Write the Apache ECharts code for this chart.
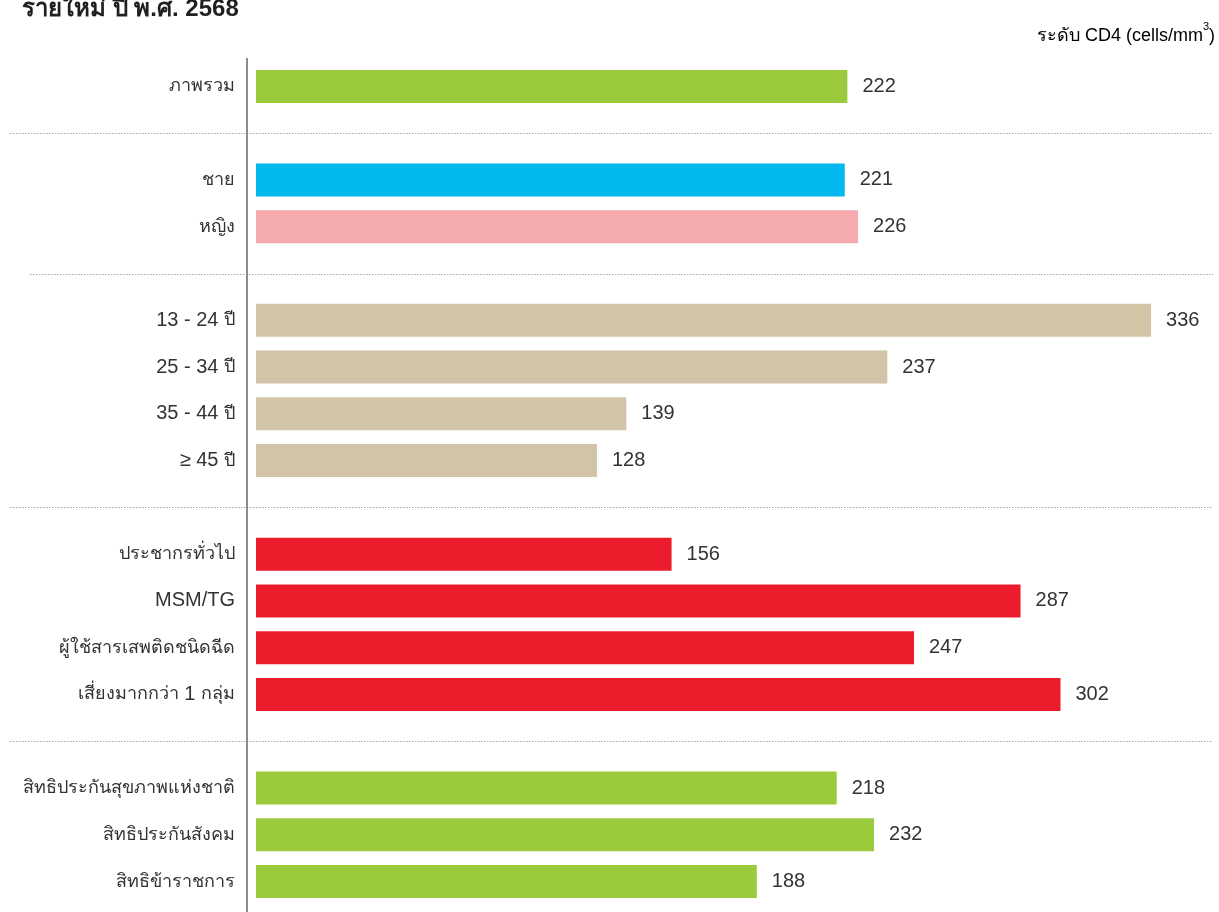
<!DOCTYPE html>
<html>
<head>
<meta charset="utf-8">
<script src="https://cdn.jsdelivr.net/npm/echarts@6/dist/echarts.min.js"></script>
<style>
html,body{margin:0;padding:0;background:#fff;}
#main{width:1219px;height:912px;}
</style>
</head>
<body>
<div id="main"></div>
<script>
const titleText = 'รายใหม่ ปี พ.ศ. 2568';
const unitText = 'ระดับ CD4 (cells/mm';
const categories = ['ภาพรวม','ชาย','หญิง','13 - 24 ปี','25 - 34 ปี','35 - 44 ปี','≥ 45 ปี','ประชากรทั่วไป','MSM/TG','ผู้ใช้สารเสพติดชนิดฉีด','เสี่ยงมากกว่า 1 กลุ่ม','สิทธิประกันสุขภาพแห่งชาติ','สิทธิประกันสังคม','สิทธิข้าราชการ'];
const values = [222,221,226,336,237,139,128,156,287,247,302,218,232,188];
const groups = ['total','male','female','age','age','age','age','risk','risk','risk','risk','right','right','right'];

const groupColors = {total:'#9BCA3C', male:'#00B7EE', female:'#F5AAAD', age:'#D2C4A7', risk:'#EC1C2D', right:'#9BCA3C'};
const sepStartX = [10, 30, 10, 10];

// build slots with a blank slot between groups
const slotCats = [], slotData = [], gapSlots = [];
let prevGroup = null;
categories.forEach((c, i) => {
  const g = groups[i];
  const changed = prevGroup !== null && (g !== prevGroup && !(prevGroup==='male' && g==='female'));
  if (changed) { gapSlots.push(slotCats.length); slotCats.push(''); slotData.push('-'); }
  slotCats.push(c);
  slotData.push({value: values[i], itemStyle: {color: groupColors[g]}});
  prevGroup = g;
});

function richLabel(s) {
  if (!s) return '';
  return s.split(/([\u0E00-\u0E7F]+)/).filter(p => p.length)
    .map(p => /[\u0E00-\u0E7F]/.test(p) ? '{t|' + p + '}' : '{l|' + p + '}').join('');
}

const FONT = "'Liberation Sans', 'Noto Sans', Arial, sans-serif";
const chart = echarts.init(document.getElementById('main'));
chart.setOption({
  animation: false,
  title: {
    text: titleText, left: 17, top: -8,
    textStyle: {fontSize: 24, fontWeight: 'bold', color: '#231F20', fontFamily: FONT}
  },
  grid: {left: 256, right: 4, top: 63, bottom: 7, containLabel: false},
  xAxis: {
    type: 'value', min: 0, max: 360, show: false
  },
  yAxis: {
    type: 'category', data: slotCats, inverse: true,
    axisLine: {show: false},
    axisTick: {show: false},
    axisLabel: {
      color: '#333', fontSize: 18, margin: 21, fontFamily: FONT,
      formatter: richLabel,
      rich: {
        t: {fontSize: 18, color: '#333', fontFamily: FONT},
        l: {fontSize: 20, color: '#333', fontFamily: FONT}
      }
    },
    splitLine: {show: false}
  },
  series: [{
    type: 'bar', data: slotData, barWidth: 33,
    label: {show: true, position: 'right', distance: 15, color: '#333', fontSize: 20, fontFamily: FONT}
  }]
});

// axis line, separators and unit text
const lines = gapSlots.map((s, k) => {
  const y = Math.round(chart.convertToPixel({yAxisIndex: 0}, s)) + 0.5;
  return {
    type: 'line', z: 0,
    shape: {x1: sepStartX[k], y1: y, x2: 1213, y2: y},
    style: {stroke: '#A6A6A6', lineWidth: 1, lineDash: [1.5, 1.5]}
  };
});
lines.push({
  type: 'line', z: 1,
  shape: {x1: 247, y1: 58, x2: 247, y2: 912},
  style: {stroke: '#8C8C8C', lineWidth: 2}
});
lines.push({
  type: 'text', right: 4, top: 21,
  style: {
    text: '{a|' + unitText + '}{s|3}{a|)}',
    rich: {
      a: {fontSize: 18, color: '#231F20', fontFamily: FONT, verticalAlign: 'bottom', lineHeight: 24},
      s: {fontSize: 11, color: '#231F20', fontFamily: FONT, verticalAlign: 'top', lineHeight: 24, padding: [0,0,10,0]}
    }
  }
});
chart.setOption({graphic: lines});
</script>
</body>
</html>
